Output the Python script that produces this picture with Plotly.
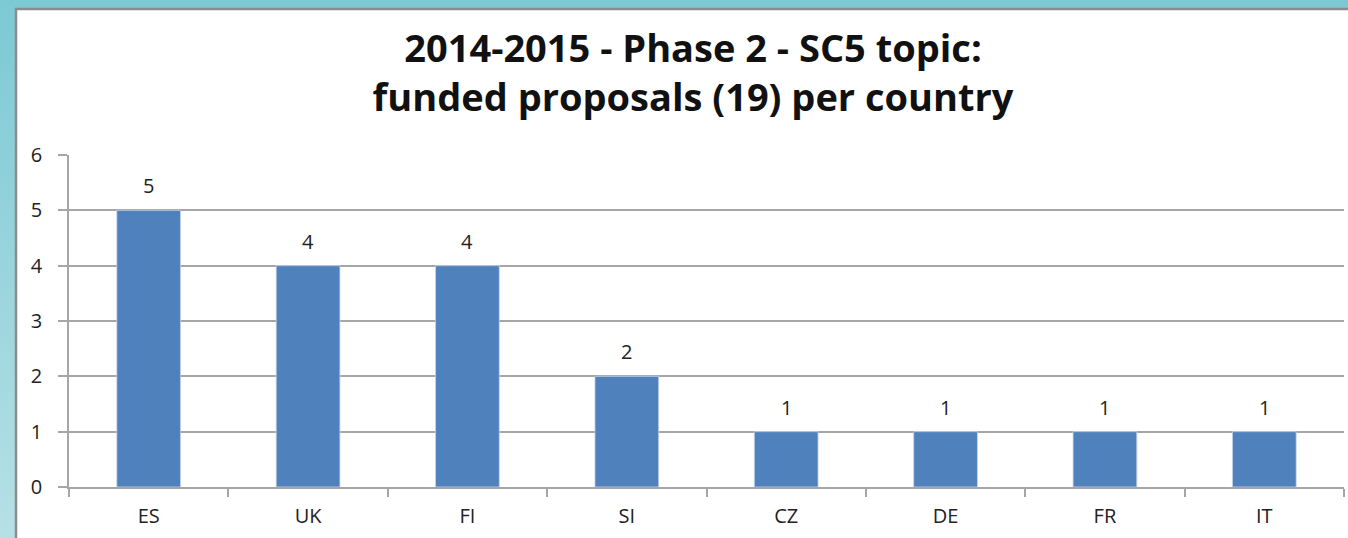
import base64
import plotly.graph_objects as go

countries = ["ES", "UK", "FI", "SI", "CZ", "DE", "FR", "IT"]
proposals = [5, 4, 4, 2, 1, 1, 1, 1]
y_ticks = [0, 1, 2, 3, 4, 5, 6]
title_text = "2014-2015 - Phase 2 - SC5 topic:<br>funded proposals (19) per country"

W, H = 1348, 538
L, R, T, B = 69, 4, 155, 51
pw, ph = W - L - R, H - T - B

def px_x(p):
    return (p - L) / pw

def px_y(p):
    return (H - B - p) / ph

svg = (
    '<svg xmlns="http://www.w3.org/2000/svg" width="100" height="100" preserveAspectRatio="none">'
    '<defs><linearGradient id="g" x1="0" y1="0" x2="0" y2="1">'
    '<stop offset="0" stop-color="#7CC9D4"/><stop offset="1" stop-color="#B6E0E6"/>'
    '</linearGradient></defs><rect width="100" height="100" fill="url(#g)"/></svg>'
)
svg_uri = "data:image/svg+xml;base64," + base64.b64encode(svg.encode()).decode()

fig = go.Figure()
fig.add_trace(go.Bar(
    x=countries, y=proposals,
    marker=dict(color="#4F81BD", line=dict(color="#C6D6EA", width=0.8)),
    width=0.4, hoverinfo="x+y",
))

for c, v in zip(countries, proposals):
    fig.add_annotation(x=c, y=v, text=str(v), showarrow=False, yanchor="bottom",
                       yshift=9, font=dict(family="Open Sans", size=20, color="#222222"))

fig.add_layout_image(dict(source=svg_uri, xref="paper", yref="paper",
                          x=px_x(0), y=px_y(0), sizex=W / pw, sizey=H / ph,
                          xanchor="left", yanchor="top", sizing="stretch", layer="below"))

fig.add_shape(type="rect", xref="paper", yref="paper",
              x0=px_x(16), x1=px_x(W + 10), y0=px_y(H + 10), y1=px_y(9),
              fillcolor="white", line=dict(color="#8C8C8C", width=2.5), layer="below")

fig.update_layout(
    width=W, height=H,
    margin=dict(l=L, r=R, t=T, b=B),
    paper_bgcolor="#7CC9D4",
    plot_bgcolor="rgba(0,0,0,0)",
    showlegend=False,
    title=dict(text=title_text, xref="container", x=693 / W, xanchor="center",
               y=1 - 62 / H, yanchor="top",
               font=dict(family="Open Sans", size=38, color="#111111", weight="bold")),
    xaxis=dict(
        type="category", showline=True, linecolor="#A6A6A6", linewidth=1.5,
        ticks="outside", tickson="boundaries", ticklen=8, tickcolor="#A6A6A6", tickwidth=1.5,
        tickfont=dict(family="Open Sans", size=20, color="#222222"),
        ticklabelstandoff=10, showgrid=False, fixedrange=True,
    ),
    yaxis=dict(
        range=[0, 6], tickvals=y_ticks, showline=True, linecolor="#A6A6A6", linewidth=1.5,
        ticks="outside", ticklen=9, tickcolor="#A6A6A6", tickwidth=1.5,
        showgrid=True, gridcolor="#A6A6A6", gridwidth=1.5, zeroline=False,
        tickfont=dict(family="Open Sans", size=20, color="#222222"),
        ticklabelstandoff=12, fixedrange=True,
    ),
)

fig.write_html("out.html", config={"displayModeBar": False},
               post_script="document.body.style.margin='0';")
